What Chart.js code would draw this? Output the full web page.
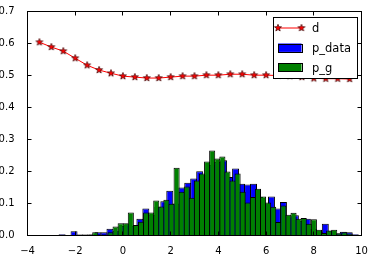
<!DOCTYPE html>
<html>
<head>
<meta charset="utf-8">
<script src="https://cdn.jsdelivr.net/npm/chart.js@4"></script>
<style>
  html, body { margin: 0; padding: 0; background: #fff; }
  #wrap { width: 375px; height: 256px; }
</style>
</head>
<body>
<div id="wrap"><canvas id="histChart" width="375" height="256"></canvas></div>
<script>
// ---------------- Data ----------------
// discriminator output "d"
const dX = [-3.5, -3.0, -2.5, -2.0, -1.5, -1.0, -0.5, 0.0, 0.5, 1.0, 1.5, 2.0, 2.5, 3.0,
            3.5, 4.0, 4.5, 5.0, 5.5, 6.0, 6.5, 7.0, 7.5, 8.0, 8.5, 9.0, 9.5];
const dY = [0.604, 0.589, 0.576, 0.554, 0.532, 0.517, 0.507, 0.498, 0.495, 0.492, 0.492, 0.495, 0.498, 0.498,
            0.501, 0.501, 0.504, 0.504, 0.501, 0.501, 0.500, 0.498, 0.495, 0.491, 0.490, 0.490, 0.489];

// histogram of real data (bin centres / heights)
const pDataX = [-2.550, -2.299, -2.049, -1.798, -1.547, -1.296, -1.046, -0.795, -0.544, -0.293,
                -0.043, 0.208, 0.459, 0.710, 0.960, 1.211, 1.462, 1.713, 1.963, 2.214,
                2.465, 2.716, 2.966, 3.217, 3.468, 3.719, 3.969, 4.220, 4.471, 4.722,
                4.972, 5.223, 5.474, 5.725, 5.975, 6.226, 6.477, 6.728, 6.978, 7.229,
                7.480, 7.731, 7.981, 8.232, 8.483, 8.734, 8.984, 9.235, 9.486, 9.737];
const pDataY = [0.004, 0.000, 0.013, 0.002, 0.002, 0.003, 0.010, 0.010, 0.021, 0.015,
                0.030, 0.035, 0.030, 0.052, 0.084, 0.065, 0.090, 0.107, 0.140, 0.100,
                0.150, 0.165, 0.178, 0.201, 0.190, 0.220, 0.230, 0.235, 0.183, 0.209,
                0.162, 0.159, 0.162, 0.120, 0.100, 0.122, 0.084, 0.105, 0.060, 0.063,
                0.045, 0.052, 0.020, 0.012, 0.037, 0.015, 0.007, 0.012, 0.010, 0.004];

// histogram of generated samples
const pGX = [-1.800, -1.587, -1.373, -1.160, -0.947, -0.734, -0.521, -0.308, -0.095, 0.118,
             0.331, 0.545, 0.758, 0.971, 1.184, 1.397, 1.610, 1.823, 2.036, 2.250,
             2.463, 2.676, 2.889, 3.102, 3.315, 3.528, 3.741, 3.955, 4.168, 4.381,
             4.594, 4.807, 5.020, 5.233, 5.446, 5.660, 5.873, 6.086, 6.299, 6.512,
             6.725, 6.938, 7.151, 7.365, 7.578, 7.791, 8.004, 8.217, 8.430, 8.643,
             8.856, 9.070, 9.283, 9.496];
const pGY = [0.003, 0.003, 0.003, 0.010, 0.003, 0.003, 0.010, 0.028, 0.038, 0.038,
             0.072, 0.033, 0.043, 0.072, 0.072, 0.109, 0.091, 0.112, 0.099, 0.212,
             0.137, 0.153, 0.118, 0.172, 0.194, 0.231, 0.266, 0.241, 0.247, 0.200,
             0.172, 0.194, 0.137, 0.103, 0.120, 0.146, 0.122, 0.103, 0.090, 0.042,
             0.094, 0.065, 0.071, 0.052, 0.055, 0.037, 0.051, 0.018, 0.008, 0.016,
             0.018, 0.006, 0.010, 0.006];

const xTickValues = [-4, -2, 0, 2, 4, 6, 8, 10];
const yTickValues = [0.0, 0.1, 0.2, 0.3, 0.4, 0.5, 0.6, 0.7];

// ---------------- Helpers ----------------
const FONT = "'DejaVu Sans', 'Liberation Sans', sans-serif";

function makeStar(r) {
  const c = document.createElement("canvas");
  const s = Math.ceil(r * 2 + 2);
  c.width = s; c.height = s;
  const g = c.getContext("2d");
  g.beginPath();
  for (let i = 0; i < 10; i++) {
    const rad = i % 2 ? r * 0.42 : r;
    const ang = -Math.PI / 2 + i * Math.PI / 5;
    g.lineTo(s / 2 + rad * Math.cos(ang), s / 2 + rad * Math.sin(ang));
  }
  g.closePath();
  g.fillStyle = "#ff0000";
  g.fill();
  g.strokeStyle = "#3a0000";
  g.lineWidth = 0.7;
  g.stroke();
  return c;
}
const starImg = makeStar(3.7);

function toPoints(xs, ys) { return xs.map((x, i) => ({ x, y: ys[i] })); }
function fmtX(v) { return v < 0 ? "\u2212" + Math.abs(v) : String(v); }

// ---------------- Plugins ----------------
// matplotlib-like frame with inward ticks on all four sides
const framePlugin = {
  id: "frame",
  afterDatasetsDraw(chart) {
    const { ctx, chartArea: a, scales } = chart;
    ctx.save();
    ctx.strokeStyle = "#000";
    ctx.lineWidth = 1;
    ctx.beginPath();
    xTickValues.forEach(v => {
      const px = Math.round(scales.x.getPixelForValue(v) - 0.5) + 0.5;
      ctx.moveTo(px, a.bottom); ctx.lineTo(px, a.bottom - 4);
      ctx.moveTo(px, a.top); ctx.lineTo(px, a.top + 4);
    });
    yTickValues.forEach(v => {
      const py = Math.round(scales.y.getPixelForValue(v) - 0.5) + 0.5;
      ctx.moveTo(a.left, py); ctx.lineTo(a.left + 4, py);
      ctx.moveTo(a.right, py); ctx.lineTo(a.right - 4, py);
    });
    ctx.stroke();
    ctx.strokeRect(a.left, a.top, a.right - a.left, a.bottom - a.top);
    ctx.restore();
  }
};

// legend box in the upper right of the axes
const legendPlugin = {
  id: "boxLegend",
  afterDraw(chart) {
    const { ctx, chartArea: a } = chart;
    const left = Math.round(a.right - 89) + 0.5;
    const top = Math.round(a.top + 6) - 0.5;
    const w = 84, h = 61;
    ctx.save();
    ctx.fillStyle = "#fff";
    ctx.fillRect(left, top, w, h);
    ctx.strokeStyle = "#000";
    ctx.lineWidth = 1;
    ctx.strokeRect(left, top, w, h);

    const sx0 = left + 4.5, sx1 = left + 28;
    const tx = left + 38.5;
    const rows = [top + 10.5, top + 30.2, top + 49.8];

    // d
    ctx.strokeStyle = "#ff0000";
    ctx.beginPath();
    ctx.moveTo(sx0, rows[0]); ctx.lineTo(sx1, rows[0]);
    ctx.stroke();
    [sx0, sx1].forEach(x => ctx.drawImage(starImg, x - starImg.width / 2, rows[0] - starImg.height / 2));

    // p_data / p_g patches
    [["#0000ff", rows[1]], ["#008000", rows[2]]].forEach(([col, y]) => {
      ctx.fillStyle = col;
      ctx.fillRect(sx0, y - 4.2, sx1 - sx0, 8.4);
      ctx.strokeStyle = "#000";
      ctx.strokeRect(Math.round(sx0) + 0.5, Math.round(y - 4.2) + 0.5, Math.round(sx1 - sx0), 8);
    });

    ctx.fillStyle = "#000";
    ctx.font = "11.5px " + FONT;
    ctx.textAlign = "left";
    ctx.textBaseline = "alphabetic";
    ["d", "p_data", "p_g"].forEach((t, i) => ctx.fillText(t, tx, rows[i] + 4.2));
    ctx.restore();
  }
};

// ---------------- Chart ----------------
const tickFont = { family: FONT, size: 10 };

new Chart(document.getElementById("histChart"), {
  type: "bar",
  data: {
    datasets: [
      {
        type: "line",
        label: "d",
        data: toPoints(dX, dY),
        xAxisID: "x",
        borderColor: "#ff0000",
        backgroundColor: "#ff0000",
        borderWidth: 1,
        pointStyle: starImg,
        pointRadius: 4,
        tension: 0,
        fill: false,
        order: 0
      },
      {
        label: "p_data",
        data: toPoints(pDataX, pDataY),
        xAxisID: "x",
        backgroundColor: "#0000ff",
        borderColor: "#000",
        borderWidth: 1,
        grouped: false,
        barPercentage: 1.167,
        categoryPercentage: 1,
        order: 2
      },
      {
        label: "p_g",
        data: toPoints(pGX, pGY),
        xAxisID: "x2",
        backgroundColor: "#008000",
        borderColor: "#000",
        borderWidth: 1,
        grouped: false,
        barPercentage: 1.197,
        categoryPercentage: 1,
        order: 1
      }
    ]
  },
  options: {
    responsive: false,
    animation: false,
    layout: { padding: { top: 11.5, right: 13.5, bottom: 0, left: 0 } },
    plugins: {
      legend: { display: false },
      tooltip: { enabled: false }
    },
    scales: {
      x: {
        type: "linear",
        position: "bottom",
        min: -4,
        max: 10,
        offset: false,
        grid: { display: false, offset: false },
        border: { display: false },
        afterBuildTicks: s => { s.ticks = xTickValues.map(v => ({ value: v })); },
        afterFit: s => { s.height = 20.5; },
        ticks: {
          color: "#000",
          font: tickFont,
          padding: 2,
          maxRotation: 0,
          autoSkip: false,
          callback: v => fmtX(v)
        }
      },
      x2: {
        type: "linear",
        display: false,
        min: -4,
        max: 10,
        offset: false,
        grid: { offset: false },
        ticks: { stepSize: 2 }
      },
      y: {
        type: "linear",
        min: 0,
        max: 0.7,
        grid: { display: false },
        border: { display: false },
        afterBuildTicks: s => { s.ticks = yTickValues.map(v => ({ value: v })); },
        afterFit: s => { s.width = 27.5; },
        ticks: {
          color: "#000",
          font: tickFont,
          padding: 5,
          autoSkip: false,
          callback: v => Number(v).toFixed(1)
        }
      }
    }
  },
  plugins: [framePlugin, legendPlugin]
});
</script>
</body>
</html>
